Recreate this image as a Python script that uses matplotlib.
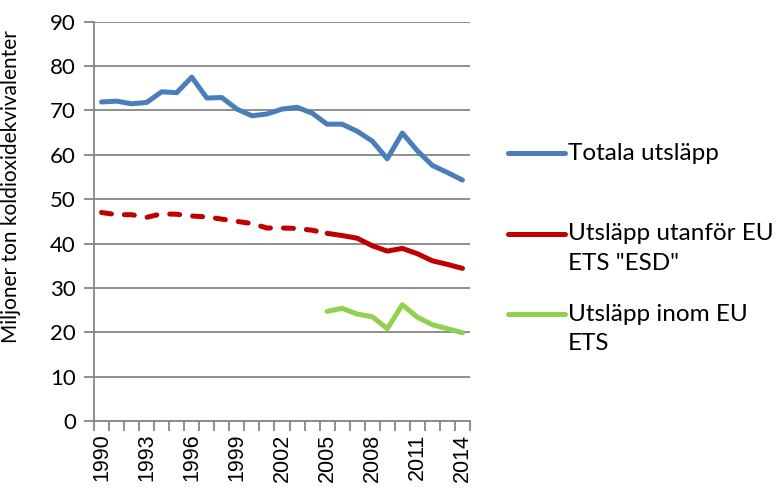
import numpy as np
import matplotlib
matplotlib.use("Agg")
import matplotlib.pyplot as plt
from matplotlib.lines import Line2D

# Data (miljoner ton CO2-ekvivalenter)
years = list(range(1990, 2015))
totala = [71.9, 72.1, 71.5, 71.8, 74.2, 74.0, 77.5, 72.8, 72.9, 70.3,
          68.8, 69.2, 70.3, 70.7, 69.4, 66.9, 66.9, 65.3, 63.1, 59.1,
          64.9, 60.9, 57.6, 56.0, 54.3]
esd = [47.0, 46.5, 46.5, 45.9, 46.7, 46.6, 46.2, 46.0, 45.5, 45.0,
       44.5, 43.5, 43.5, 43.4, 43.0, 42.3, 41.8, 41.2, 39.5, 38.3,
       38.9, 37.7, 36.1, 35.3, 34.4]
ets_years = list(range(2005, 2015))
ets = [24.7, 25.4, 24.1, 23.5, 20.8, 26.2, 23.4, 21.7, 20.8, 19.9]
esd_split = 2005  # dashed before, solid after

labels = ["Totala utsläpp", "Utsläpp utanför EU\nETS \"ESD\"", "Utsläpp inom EU\nETS"]
colors = ["#4a7ebb", "#c00000", "#92d050"]

plt.rcParams["font.family"] = ["Lato", "DejaVu Sans"]

fig = plt.figure(figsize=(7.76, 4.9), dpi=100)
ax = fig.add_axes([94 / 776, 1 - 421 / 490, 376 / 776, (421 - 21.7) / 490])

x = np.arange(len(years))
xe = np.array([years.index(y) for y in ets_years])
k = years.index(esd_split)
lw = 3.6

ax.plot(x, totala, color=colors[0], lw=lw, solid_joinstyle="round", solid_capstyle="round", zorder=3)
ax.plot(x[:k + 1], esd[:k + 1], color=colors[1], lw=lw, dashes=(2.0, 2.6),
        dash_capstyle="round", zorder=3)
ax.plot(x[k:], esd[k:], color=colors[1], lw=lw, solid_joinstyle="round", solid_capstyle="round", zorder=3)
ax.plot(xe, ets, color=colors[2], lw=lw, solid_joinstyle="round", solid_capstyle="round", zorder=3)

ax.set_xlim(-0.5, len(years) - 0.5)
ax.set_ylim(0, 90)
ax.set_yticks(np.arange(0, 91, 10))
ax.yaxis.grid(True, color="#868686", lw=1.3)
ax.set_axisbelow(True)

ax.set_xticks(x[::3])
ax.set_xticklabels([str(y) for y in years[::3]], rotation=90, family=["Liberation Sans"], fontsize=15.5)
ax.set_xticks(np.arange(-0.5, len(years), 1), minor=True)
ax.tick_params(axis="x", which="major", length=0, pad=9)
ax.tick_params(axis="x", which="minor", length=7, width=1.3, color="#868686", direction="out")
ax.tick_params(axis="y", length=7, width=1.3, color="#868686", labelsize=16, pad=6)

for s in ["top", "right"]:
    ax.spines[s].set_visible(False)
for s in ["left", "bottom"]:
    ax.spines[s].set_color("#868686")
    ax.spines[s].set_linewidth(1.3)

ax.set_ylabel("Miljoner ton koldioxidekvivalenter", fontsize=15)
ax.yaxis.set_label_coords((21 - 94) / 376, (421 - 187) / 399.3)

# Legend drawn to the right, handle aligned with first text line
leg_y = [153, 234, 314]
for lab, col, yy in zip(labels, colors, leg_y):
    fy = 1 - yy / 490
    fig.add_artist(Line2D([508 / 776, 565 / 776], [fy, fy], color=col, lw=lw,
                          solid_capstyle="round", transform=fig.transFigure))
    fig.text(568 / 776, fy + 10.5 / 490, lab, fontsize=17.5, va="top", ha="left", linespacing=1.5)

fig.savefig("out.png", dpi=100)
